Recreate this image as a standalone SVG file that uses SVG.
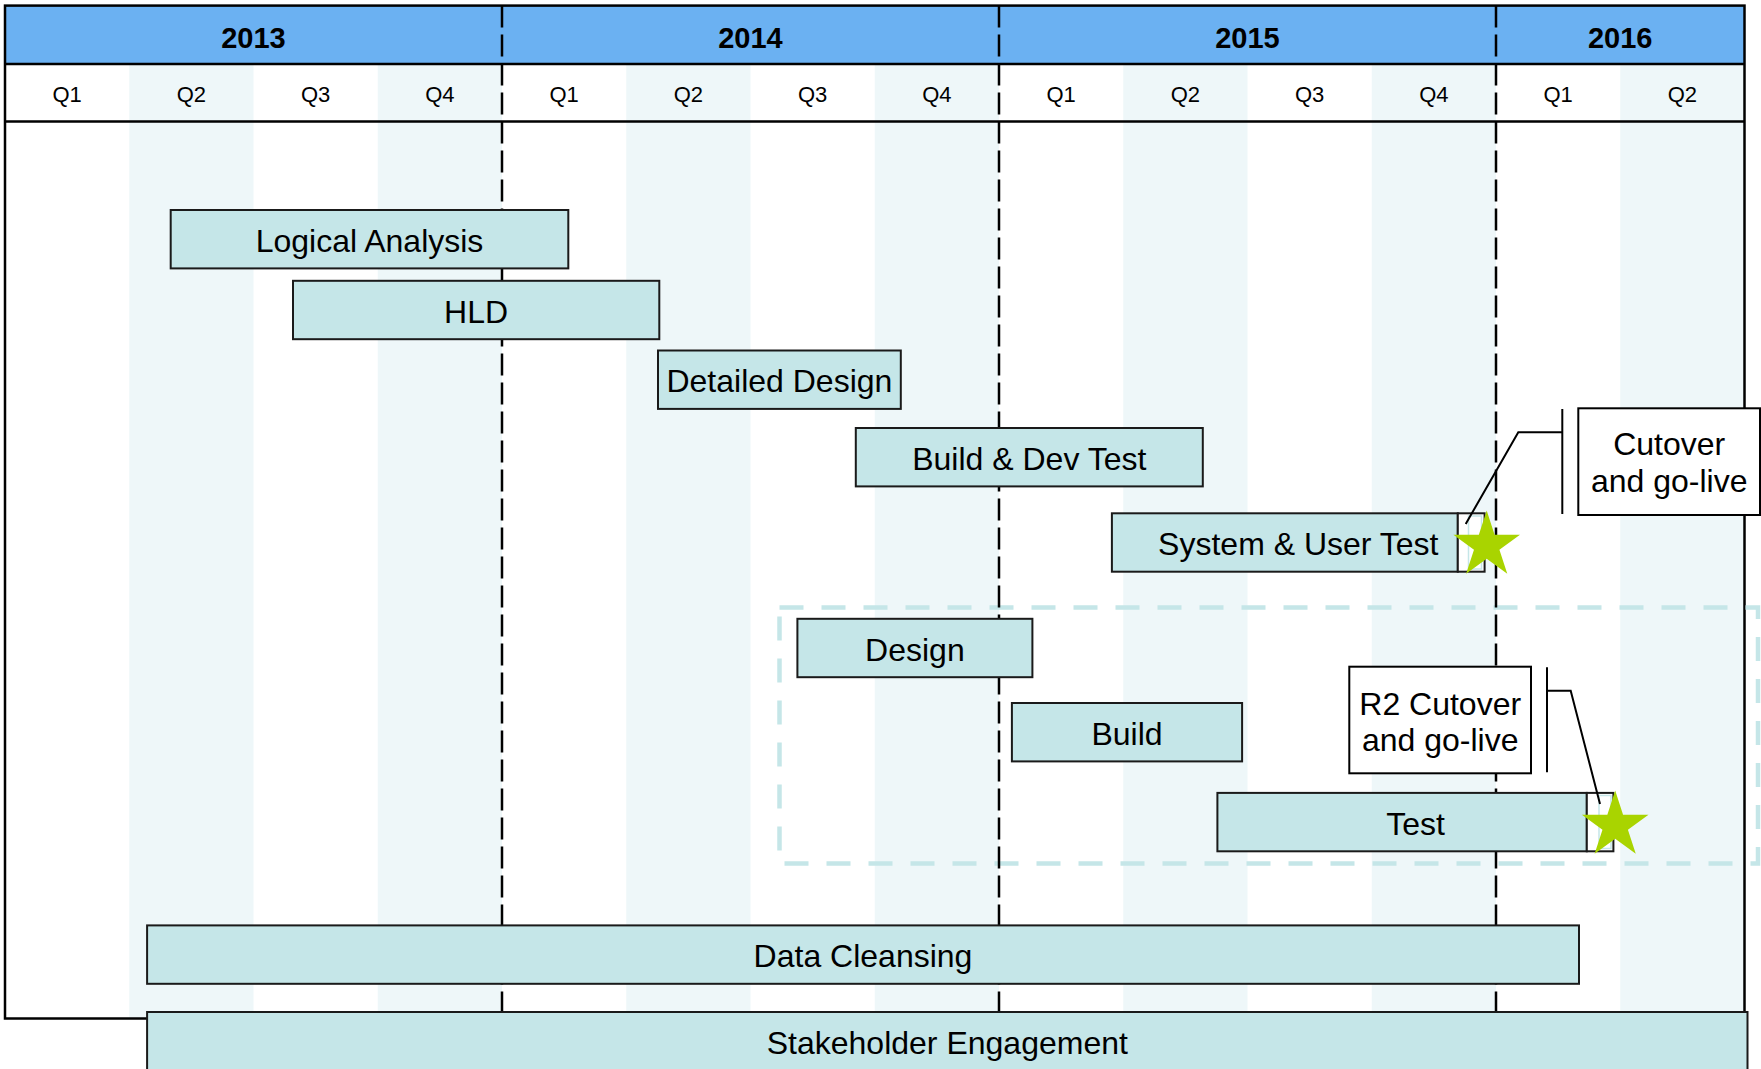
<svg xmlns="http://www.w3.org/2000/svg" xmlns:xlink="http://www.w3.org/1999/xlink" width="1761" height="1069" viewBox="0 0 1761 1069">
<style>
text{font-family:"Liberation Sans",Arial,sans-serif;fill:#000}
.yr{font-size:29px;font-weight:bold;text-anchor:middle}
.q{font-size:22px;text-anchor:middle}
.lbl{font-size:32px;text-anchor:middle}
.bar{fill:#C5E6E8;stroke:#1a1a1a;stroke-width:2}
.ms{fill:#fff;stroke:#1a1a1a;stroke-width:2}
.msin{fill:none;stroke:#C5E6E8;stroke-width:1.5}
.shade{fill:#EEF7F9}
.ydiv{stroke:#000;stroke-width:2.5;stroke-dasharray:22 7;fill:none}
.call{fill:#fff;stroke:#000;stroke-width:2}
.conn{fill:none;stroke:#000;stroke-width:2}
.star{fill:#A9D400}
</style>
<defs>
<polygon id="star" points="0,-35 7.86,-10.82 33.29,-10.82 12.72,4.13 20.57,28.32 0,13.37 -20.57,28.32 -12.72,4.13 -33.29,-10.82 -7.86,-10.82"/>
</defs>
<rect x="0" y="0" width="1761" height="1069" fill="#fff"/>
<g id="grid">
<rect class="shade" x="129.25" y="64" width="124.25" height="954.5"/>
<rect class="shade" x="377.75" y="64" width="124.25" height="954.5"/>
<rect class="shade" x="626.25" y="64" width="124.25" height="954.5"/>
<rect class="shade" x="874.75" y="64" width="124.25" height="954.5"/>
<rect class="shade" x="1123.25" y="64" width="124.25" height="954.5"/>
<rect class="shade" x="1371.75" y="64" width="124.25" height="954.5"/>
<rect class="shade" x="1620.25" y="64" width="124.25" height="954.5"/>
<rect x="5" y="5.6" width="1739.5" height="58.4" fill="#6BB1F2"/>
<line x1="5" y1="64" x2="1744.5" y2="64" stroke="#000" stroke-width="2.5"/>
<line x1="5" y1="121.5" x2="1744.5" y2="121.5" stroke="#000" stroke-width="2.5"/>
<rect x="5" y="5.6" width="1739.5" height="1012.9" fill="none" stroke="#000" stroke-width="2.5"/>
</g>
<g id="release2-frame">
<rect x="779.5" y="607.5" width="978.5" height="256" fill="none" stroke="#C5E6E8" stroke-width="4.5" stroke-dasharray="24 18"/>
</g>
<g id="year-dividers">
<line class="ydiv" x1="502" y1="5.6" x2="502" y2="1018.5"/>
<line class="ydiv" x1="999" y1="5.6" x2="999" y2="1018.5"/>
<line class="ydiv" x1="1496" y1="5.6" x2="1496" y2="1018.5"/>
</g>
<g id="header-text">
<text class="yr" x="253.5" y="47.5">2013</text>
<text class="yr" x="750.5" y="47.5">2014</text>
<text class="yr" x="1247.5" y="47.5">2015</text>
<text class="yr" x="1620.2" y="47.5">2016</text>
<text class="q" x="67.1" y="102">Q1</text>
<text class="q" x="191.4" y="102">Q2</text>
<text class="q" x="315.6" y="102">Q3</text>
<text class="q" x="439.9" y="102">Q4</text>
<text class="q" x="564.1" y="102">Q1</text>
<text class="q" x="688.4" y="102">Q2</text>
<text class="q" x="812.6" y="102">Q3</text>
<text class="q" x="936.9" y="102">Q4</text>
<text class="q" x="1061.1" y="102">Q1</text>
<text class="q" x="1185.4" y="102">Q2</text>
<text class="q" x="1309.6" y="102">Q3</text>
<text class="q" x="1433.9" y="102">Q4</text>
<text class="q" x="1558.1" y="102">Q1</text>
<text class="q" x="1682.4" y="102">Q2</text>
</g>
<g id="logical-analysis">
<rect class="bar" x="170.7" y="210" width="397.6" height="58.4"/>
<text class="lbl" x="369.5" y="251.7">Logical Analysis</text>
</g>
<g id="hld">
<rect class="bar" x="293" y="280.8" width="366.3" height="58.4"/>
<text class="lbl" x="476.1" y="322.5">HLD</text>
</g>
<g id="detailed-design">
<rect class="bar" x="658" y="350.5" width="242.8" height="58.4"/>
<text class="lbl" x="779.4" y="392.2">Detailed Design</text>
</g>
<g id="build-dev-test">
<rect class="bar" x="855.8" y="428" width="347" height="58.4"/>
<text class="lbl" x="1029.3" y="469.7">Build &amp; Dev Test</text>
</g>
<g id="system-user-test">
<rect class="bar" x="1111.9" y="513.3" width="345.9" height="58.4"/>
<rect class="ms" x="1457.8" y="513.3" width="26.8" height="58.4"/>
<rect class="msin" x="1468.5" y="516" width="13" height="53"/>
<text class="lbl" x="1298.3" y="555">System &amp; User Test</text>
</g>
<g id="design">
<rect class="bar" x="797.4" y="618.8" width="235" height="58.4"/>
<text class="lbl" x="914.9" y="660.5">Design</text>
</g>
<g id="build">
<rect class="bar" x="1011.9" y="703" width="230.2" height="58.4"/>
<text class="lbl" x="1127" y="744.7">Build</text>
</g>
<g id="test">
<rect class="bar" x="1217.4" y="792.9" width="369.4" height="58.4"/>
<rect class="ms" x="1586.8" y="792.9" width="26.6" height="58.4"/>
<rect class="msin" x="1599" y="795.5" width="12" height="53"/>
<text class="lbl" x="1415.6" y="834.6">Test</text>
</g>
<g id="data-cleansing">
<rect class="bar" x="147.1" y="925.4" width="1431.9" height="58.4"/>
<text class="lbl" x="863" y="967.1">Data Cleansing</text>
</g>
<g id="stakeholder-engagement">
<rect class="bar" x="147.1" y="1012" width="1600.4" height="62"/>
<text class="lbl" x="947.3" y="1054">Stakeholder Engagement</text>
</g>
<g id="connectors">
<line class="conn" x1="1562.3" y1="409" x2="1562.3" y2="514"/>
<polyline class="conn" points="1562.3,432.3 1518.3,432.3 1465.7,524"/>
<line class="conn" x1="1547" y1="667.3" x2="1547" y2="772.3"/>
<polyline class="conn" points="1547,690.7 1570.7,690.7 1600,804"/>
</g>
<g id="milestone-1">
<use xlink:href="#star" href="#star" class="star" x="1486.7" y="545.5"/>
</g>
<g id="milestone-2">
<use xlink:href="#star" href="#star" class="star" x="1615.2" y="825.5"/>
</g>
<g id="cutover-callout">
<rect class="call" x="1578.3" y="408.3" width="181.7" height="106.7"/>
<text class="lbl" x="1669.2" y="454.5">Cutover</text>
<text class="lbl" x="1669.2" y="492">and go-live</text>
</g>
<g id="r2-cutover-callout">
<rect class="call" x="1349.3" y="666.7" width="181.7" height="106.6"/>
<text class="lbl" x="1440.2" y="714.5">R2 Cutover</text>
<text class="lbl" x="1440.2" y="751">and go-live</text>
</g>
</svg>
